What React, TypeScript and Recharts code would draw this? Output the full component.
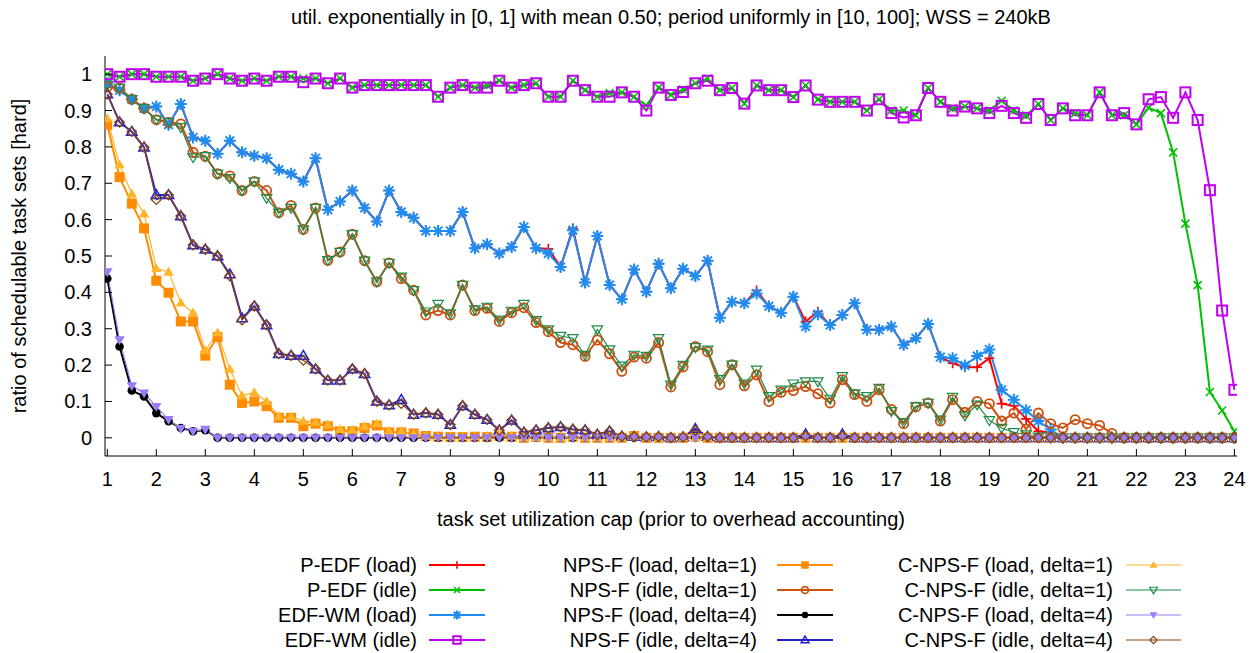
import { LineChart, Line, XAxis, YAxis } from "recharts";

const X = [
  1, 1.25, 1.5, 1.75, 2, 2.25, 2.5, 2.75, 3, 3.25,
  3.5, 3.75, 4, 4.25, 4.5, 4.75, 5, 5.25, 5.5, 5.75,
  6, 6.25, 6.5, 6.75, 7, 7.25, 7.5, 7.75, 8, 8.25,
  8.5, 8.75, 9, 9.25, 9.5, 9.75, 10, 10.25, 10.5, 10.75,
  11, 11.25, 11.5, 11.75, 12, 12.25, 12.5, 12.75, 13, 13.25,
  13.5, 13.75, 14, 14.25, 14.5, 14.75, 15, 15.25, 15.5, 15.75,
  16, 16.25, 16.5, 16.75, 17, 17.25, 17.5, 17.75, 18, 18.25,
  18.5, 18.75, 19, 19.25, 19.5, 19.75, 20, 20.25, 20.5, 20.75,
  21, 21.25, 21.5, 21.75, 22, 22.25, 22.5, 22.75, 23, 23.25,
  23.5, 23.75, 24,
];

const X_TICKS = [1, 2, 3, 4, 5, 6, 7, 8, 9, 10, 11, 12, 13, 14, 15, 16, 17, 18, 19, 20, 21, 22, 23, 24];
const Y_TICKS = [0, 0.1, 0.2, 0.3, 0.4, 0.5, 0.6, 0.7, 0.8, 0.9, 1];

const PEDF_LOAD = [
  0.97, 0.956, 0.931, 0.906, 0.911, 0.861, 0.918, 0.826, 0.817, 0.781,
  0.817, 0.785, 0.776, 0.769, 0.737, 0.726, 0.705, 0.769, 0.627, 0.65,
  0.68, 0.632, 0.595, 0.68, 0.621, 0.605, 0.569, 0.569, 0.569, 0.621,
  0.521, 0.532, 0.507, 0.525, 0.58, 0.521, 0.52, 0.47, 0.576, 0.427,
  0.555, 0.42, 0.381, 0.463, 0.402, 0.479, 0.411, 0.465, 0.445, 0.487,
  0.33, 0.374, 0.37, 0.405, 0.362, 0.344, 0.388, 0.32, 0.347, 0.31,
  0.338, 0.37, 0.297, 0.297, 0.306, 0.256, 0.274, 0.313, 0.222, 0.205,
  0.194, 0.194, 0.219, 0.094, 0.088, 0.052, 0.018, 0.014, 0, 0,
  0, 0, 0, 0, 0, 0, 0, 0, 0, 0,
  0, 0, 0,
];

const PEDF_IDLE = [
  1.0, 0.993, 1.0, 1.0, 0.993, 0.993, 0.993, 0.982, 0.988, 1.0,
  0.988, 0.982, 0.988, 0.982, 0.993, 0.993, 0.988, 0.988, 0.975, 0.988,
  0.963, 0.97, 0.97, 0.97, 0.97, 0.97, 0.97, 0.938, 0.963, 0.97,
  0.963, 0.97, 0.982, 0.963, 0.97, 0.975, 0.938, 0.938, 0.982, 0.956,
  0.938, 0.948, 0.95, 0.938, 0.914, 0.963, 0.943, 0.958, 0.975, 0.988,
  0.956, 0.962, 0.919, 0.969, 0.956, 0.956, 0.937, 0.969, 0.93, 0.924,
  0.924, 0.924, 0.9, 0.931, 0.9, 0.9, 0.887, 0.962, 0.924, 0.906,
  0.911, 0.906, 0.9, 0.927, 0.9, 0.886, 0.918, 0.874, 0.906, 0.893,
  0.887, 0.95, 0.887, 0.887, 0.862, 0.908, 0.893, 0.785, 0.589, 0.42,
  0.126, 0.075, 0.018,
];

const EDFWM_LOAD = [
  0.975, 0.956, 0.931, 0.906, 0.911, 0.861, 0.918, 0.826, 0.817, 0.781,
  0.817, 0.785, 0.776, 0.769, 0.737, 0.726, 0.705, 0.769, 0.627, 0.65,
  0.68, 0.632, 0.595, 0.68, 0.621, 0.605, 0.569, 0.569, 0.569, 0.621,
  0.521, 0.532, 0.507, 0.525, 0.58, 0.521, 0.507, 0.47, 0.571, 0.427,
  0.555, 0.42, 0.381, 0.463, 0.402, 0.479, 0.411, 0.465, 0.445, 0.487,
  0.33, 0.374, 0.37, 0.397, 0.362, 0.344, 0.388, 0.306, 0.34, 0.31,
  0.338, 0.37, 0.297, 0.297, 0.306, 0.256, 0.274, 0.313, 0.222, 0.219,
  0.199, 0.225, 0.243, 0.132, 0.105, 0.076, 0.046, 0.023, 0, 0,
  0, 0, 0, 0, 0, 0, 0, 0, 0, 0,
  0, 0, 0,
];

const EDFWM_IDLE = [
  1.0, 0.993, 1.0, 1.0, 0.993, 0.993, 0.993, 0.982, 0.988, 1.0,
  0.988, 0.982, 0.988, 0.982, 0.993, 0.993, 0.978, 0.988, 0.975, 0.988,
  0.963, 0.97, 0.97, 0.97, 0.97, 0.97, 0.97, 0.938, 0.963, 0.97,
  0.963, 0.963, 0.982, 0.963, 0.97, 0.975, 0.938, 0.938, 0.982, 0.956,
  0.938, 0.938, 0.95, 0.938, 0.9, 0.963, 0.943, 0.951, 0.975, 0.982,
  0.956, 0.962, 0.919, 0.969, 0.956, 0.956, 0.937, 0.969, 0.93, 0.924,
  0.924, 0.924, 0.9, 0.931, 0.893, 0.881, 0.887, 0.962, 0.924, 0.9,
  0.911, 0.906, 0.893, 0.913, 0.893, 0.88, 0.918, 0.874, 0.906, 0.887,
  0.887, 0.95, 0.887, 0.893, 0.862, 0.931, 0.937, 0.88, 0.95, 0.874,
  0.681, 0.35, 0.132,
];

const NPSF_LOAD_D1 = [
  0.861, 0.717, 0.644, 0.576, 0.432, 0.399, 0.32, 0.32, 0.226, 0.277,
  0.146, 0.096, 0.1, 0.087, 0.055, 0.055, 0.032, 0.039, 0.032, 0.018,
  0.018, 0.027, 0.034, 0.015, 0.015, 0.012, 0.005, 0.003, 0.002, 0.002,
  0.003, 0.002, 0.005, 0.003, 0, 0.002, 0, 0, 0.003, 0,
  0, 0, 0, 0.005, 0, 0, 0, 0, 0.004, 0,
  0, 0, 0, 0, 0, 0, 0, 0, 0, 0,
  0, 0, 0, 0, 0, 0, 0, 0, 0, 0,
  0, 0, 0, 0, 0, 0, 0, 0, 0, 0,
  0, 0, 0, 0, 0, 0, 0, 0, 0, 0,
  0, 0, 0,
];

const NPSF_IDLE_D1 = [
  0.965, 0.962, 0.931, 0.906, 0.875, 0.868, 0.863, 0.785, 0.774, 0.726,
  0.72, 0.68, 0.705, 0.68, 0.619, 0.639, 0.573, 0.632, 0.488, 0.511,
  0.56, 0.487, 0.429, 0.481, 0.438, 0.406, 0.338, 0.35, 0.338, 0.42,
  0.35, 0.356, 0.32, 0.344, 0.358, 0.317, 0.292, 0.262, 0.256, 0.224,
  0.269, 0.231, 0.183, 0.222, 0.219, 0.262, 0.14, 0.195, 0.251, 0.237,
  0.146, 0.201, 0.143, 0.173, 0.1, 0.125, 0.13, 0.141, 0.121, 0.096,
  0.16, 0.119, 0.1, 0.132, 0.078, 0.039, 0.085, 0.096, 0.046, 0.105,
  0.07, 0.1, 0.094, 0.046, 0.068, 0.024, 0.068, 0.039, 0.027, 0.05,
  0.039, 0.034, 0.012, 0, 0, 0, 0, 0, 0, 0,
  0, 0, 0,
];

const NPSF_LOAD_D4 = [
  0.438, 0.251, 0.13, 0.114, 0.068, 0.046, 0.027, 0.018, 0.021, 0,
  0, 0, 0, 0, 0, 0, 0, 0, 0, 0,
  0, 0, 0, 0, 0, 0, 0, 0, 0, 0,
  0, 0, 0, 0, 0, 0, 0, 0, 0, 0,
  0, 0, 0, 0, 0, 0, 0, 0, 0, 0,
  0, 0, 0, 0, 0, 0, 0, 0, 0, 0,
  0, 0, 0, 0, 0, 0, 0, 0, 0, 0,
  0, 0, 0, 0, 0, 0, 0, 0, 0, 0,
  0, 0, 0, 0, 0, 0, 0, 0, 0, 0,
  0, 0, 0,
];

const NPSF_IDLE_D4 = [
  0.945, 0.868, 0.842, 0.799, 0.668, 0.668, 0.61, 0.53, 0.518, 0.5,
  0.45, 0.329, 0.362, 0.31, 0.231, 0.226, 0.226, 0.189, 0.158, 0.158,
  0.189, 0.176, 0.1, 0.09, 0.105, 0.064, 0.068, 0.064, 0.036, 0.088,
  0.064, 0.05, 0.021, 0.048, 0.015, 0.021, 0.027, 0.03, 0.023, 0.021,
  0.009, 0.018, 0.004, 0.003, 0.002, 0.003, 0, 0.002, 0.025, 0.003,
  0, 0, 0, 0, 0, 0, 0, 0.01, 0, 0,
  0.01, 0, 0, 0, 0, 0, 0, 0, 0, 0,
  0, 0, 0, 0, 0, 0, 0, 0, 0, 0,
  0, 0, 0, 0, 0, 0, 0, 0, 0, 0,
  0, 0, 0,
];

const CNPSF_LOAD_D1 = [
  0.878, 0.751, 0.671, 0.616, 0.466, 0.456, 0.371, 0.344, 0.24, 0.289,
  0.189, 0.116, 0.125, 0.1, 0.059, 0.059, 0.046, 0.043, 0.036, 0.023,
  0.021, 0.032, 0.039, 0.018, 0.018, 0.01, 0.005, 0.004, 0.003, 0.003,
  0.003, 0.005, 0.015, 0.005, 0, 0, 0, 0, 0.003, 0,
  0, 0, 0, 0.003, 0, 0, 0, 0, 0, 0,
  0, 0, 0, 0, 0, 0, 0, 0, 0, 0,
  0, 0, 0, 0, 0, 0, 0, 0, 0, 0,
  0, 0, 0, 0, 0, 0, 0, 0, 0, 0,
  0, 0, 0, 0, 0, 0, 0, 0, 0, 0,
  0, 0, 0,
];

const CNPSF_IDLE_D1 = [
  0.97, 0.962, 0.931, 0.906, 0.875, 0.868, 0.854, 0.771, 0.774, 0.726,
  0.714, 0.68, 0.705, 0.659, 0.619, 0.632, 0.573, 0.632, 0.488, 0.511,
  0.56, 0.487, 0.429, 0.481, 0.443, 0.406, 0.347, 0.368, 0.342, 0.42,
  0.353, 0.36, 0.325, 0.349, 0.368, 0.323, 0.298, 0.28, 0.274, 0.228,
  0.298, 0.243, 0.198, 0.228, 0.225, 0.274, 0.146, 0.2, 0.249, 0.242,
  0.161, 0.201, 0.149, 0.187, 0.114, 0.132, 0.149, 0.155, 0.155, 0.107,
  0.169, 0.122, 0.114, 0.137, 0.073, 0.043, 0.087, 0.096, 0.05, 0.112,
  0.061, 0.091, 0.048, 0.027, 0.015, 0.009, 0.003, 0, 0, 0,
  0, 0, 0, 0, 0, 0, 0, 0, 0, 0,
  0, 0, 0,
];

const CNPSF_LOAD_D4 = [
  0.456, 0.269, 0.143, 0.123, 0.086, 0.05, 0.025, 0.018, 0.023, 0,
  0, 0, 0, 0, 0, 0, 0, 0, 0, 0,
  0, 0, 0, 0, 0, 0, 0, 0, 0, 0,
  0, 0, 0, 0, 0, 0, 0, 0, 0, 0,
  0, 0, 0, 0, 0, 0, 0, 0, 0, 0,
  0, 0, 0, 0, 0, 0, 0, 0, 0, 0,
  0, 0, 0, 0, 0, 0, 0, 0, 0, 0,
  0, 0, 0, 0, 0, 0, 0, 0, 0, 0,
  0, 0, 0, 0, 0, 0, 0, 0, 0, 0,
  0, 0, 0,
];

const CNPSF_IDLE_D4 = [
  0.945, 0.868, 0.842, 0.799, 0.655, 0.668, 0.61, 0.53, 0.518, 0.5,
  0.445, 0.324, 0.362, 0.31, 0.231, 0.226, 0.213, 0.189, 0.158, 0.158,
  0.189, 0.176, 0.1, 0.09, 0.094, 0.064, 0.068, 0.064, 0.036, 0.088,
  0.064, 0.05, 0.021, 0.048, 0.015, 0.021, 0.027, 0.03, 0.023, 0.021,
  0.009, 0.018, 0.004, 0.003, 0.002, 0.003, 0, 0.002, 0.02, 0.003,
  0, 0, 0, 0, 0, 0, 0, 0.005, 0, 0,
  0.005, 0, 0, 0, 0, 0, 0, 0, 0, 0,
  0, 0, 0, 0, 0, 0, 0, 0, 0, 0,
  0, 0, 0, 0, 0, 0, 0, 0, 0, 0,
  0, 0, 0,
];

type Kind =
  | "plus" | "cross" | "star" | "square" | "fsquare" | "circle"
  | "fcircle" | "tri" | "ftri" | "dtri" | "fdtri" | "diamond";

interface SeriesDef {
  key: string;
  name: string;
  color: string;
  width: number;
  kind: Kind;
  values: number[];
}

const SERIES: SeriesDef[] = [
  { key: "pedfLoad", name: "P-EDF (load)", color: "#ff0000", width: 2, kind: "plus", values: PEDF_LOAD },
  { key: "pedfIdle", name: "P-EDF (idle)", color: "#00c000", width: 2, kind: "cross", values: PEDF_IDLE },
  { key: "edfwmLoad", name: "EDF-WM (load)", color: "#1e8cf0", width: 2, kind: "star", values: EDFWM_LOAD },
  { key: "edfwmIdle", name: "EDF-WM (idle)", color: "#c000f0", width: 2, kind: "square", values: EDFWM_IDLE },
  { key: "npsfLoad1", name: "NPS-F (load, delta=1)", color: "#ff8c00", width: 2, kind: "fsquare", values: NPSF_LOAD_D1 },
  { key: "npsfIdle1", name: "NPS-F (idle, delta=1)", color: "#cc5010", width: 2, kind: "circle", values: NPSF_IDLE_D1 },
  { key: "npsfLoad4", name: "NPS-F (load, delta=4)", color: "#000000", width: 2, kind: "fcircle", values: NPSF_LOAD_D4 },
  { key: "npsfIdle4", name: "NPS-F (idle, delta=4)", color: "#2222c8", width: 2, kind: "tri", values: NPSF_IDLE_D4 },
  { key: "cnpsfLoad1", name: "C-NPS-F (load, delta=1)", color: "#ffb52a", width: 1.2, kind: "ftri", values: CNPSF_LOAD_D1 },
  { key: "cnpsfIdle1", name: "C-NPS-F (idle, delta=1)", color: "#1f8c4a", width: 1.2, kind: "dtri", values: CNPSF_IDLE_D1 },
  { key: "cnpsfLoad4", name: "C-NPS-F (load, delta=4)", color: "#9a7df5", width: 1.2, kind: "fdtri", values: CNPSF_LOAD_D4 },
  { key: "cnpsfIdle4", name: "C-NPS-F (idle, delta=4)", color: "#8b4513", width: 1.2, kind: "diamond", values: CNPSF_IDLE_D4 },
];

const rows = X.map((x, i) => {
  const row: Record<string, number> = { x };
  SERIES.forEach((s) => {
    row[s.key] = s.values[i];
  });
  return row;
});

const FONT = '"Liberation Sans", Arial, Helvetica, sans-serif';
const FS = 20;
const TICK = 7;

function Marker({ kind, cx, cy, color, s = 1 }: { kind: Kind; cx: number; cy: number; color: string; s?: number }) {
  switch (kind) {
    case "plus": {
      const r = 5 * s;
      return <path d={`M${cx - r} ${cy}H${cx + r}M${cx} ${cy - r}V${cy + r}`} stroke={color} strokeWidth={1.6} fill="none" />;
    }
    case "cross": {
      const r = 4 * s;
      return <path d={`M${cx - r} ${cy - r}L${cx + r} ${cy + r}M${cx - r} ${cy + r}L${cx + r} ${cy - r}`} stroke={color} strokeWidth={1.6} fill="none" />;
    }
    case "star": {
      const r = 6 * s;
      const d = 4.3 * s;
      return (
        <path
          d={`M${cx - r} ${cy}H${cx + r}M${cx} ${cy - r}V${cy + r}M${cx - d} ${cy - d}L${cx + d} ${cy + d}M${cx - d} ${cy + d}L${cx + d} ${cy - d}`}
          stroke={color}
          strokeWidth={2}
          fill="none"
        />
      );
    }
    case "square": {
      const r = 5 * s;
      return <rect x={cx - r} y={cy - r} width={2 * r} height={2 * r} stroke={color} strokeWidth={2} fill="none" />;
    }
    case "fsquare": {
      const r = 5 * s;
      return <rect x={cx - r} y={cy - r} width={2 * r} height={2 * r} fill={color} />;
    }
    case "circle":
      return <circle cx={cx} cy={cy} r={4.6 * s} stroke={color} strokeWidth={1.8} fill="none" />;
    case "fcircle":
      return <circle cx={cx} cy={cy} r={4.3 * s} fill={color} />;
    case "tri":
    case "ftri": {
      const r = 5.2 * s;
      const pts = `${cx},${cy - r} ${cx + r},${cy + r * 0.7} ${cx - r},${cy + r * 0.7}`;
      return kind === "tri" ? (
        <polygon points={pts} stroke={color} strokeWidth={1.5} fill="none" />
      ) : (
        <polygon points={pts} fill={color} />
      );
    }
    case "dtri":
    case "fdtri": {
      const r = 5.2 * s;
      const pts = `${cx},${cy + r} ${cx + r},${cy - r * 0.7} ${cx - r},${cy - r * 0.7}`;
      return kind === "dtri" ? (
        <polygon points={pts} stroke={color} strokeWidth={1.2} fill="none" />
      ) : (
        <polygon points={pts} fill={color} />
      );
    }
    case "diamond": {
      const r = 4.8 * s;
      return (
        <polygon
          points={`${cx},${cy - r} ${cx + r},${cy} ${cx},${cy + r} ${cx - r},${cy}`}
          stroke={color}
          strokeWidth={1.3}
          fill="none"
        />
      );
    }
  }
  return null;
}

const fmt = (v: number) => String(Math.round(v * 10) / 10);

function LeftTick(props: any) {
  const { x, y, payload } = props;
  return (
    <g>
      <line x1={x} x2={x + TICK} y1={y} y2={y} stroke="#000" />
      <text x={x - 13} y={y} dy="0.35em" textAnchor="end" fontSize={FS} fontFamily={FONT} fill="#000">
        {fmt(payload.value)}
      </text>
    </g>
  );
}

function RightTick(props: any) {
  const { x, y } = props;
  return <line x1={x} x2={x - TICK} y1={y} y2={y} stroke="#000" />;
}

function BottomTick(props: any) {
  const { x, y, payload } = props;
  return (
    <g>
      <line x1={x} x2={x} y1={y} y2={y - TICK} stroke="#000" />
      <text x={x} y={y + 30} textAnchor="middle" fontSize={FS} fontFamily={FONT} fill="#000">
        {payload.value}
      </text>
    </g>
  );
}

function TopTick(props: any) {
  const { x, y } = props;
  return <line x1={x} x2={x} y1={y} y2={y + TICK} stroke="#000" />;
}

const LEGEND_COLS = [
  { textRight: 417, lineFrom: 429, lineTo: 485 },
  { textRight: 757, lineFrom: 777, lineTo: 833 },
  { textRight: 1113, lineFrom: 1126, lineTo: 1181 },
];
const LEGEND_ROWS = [565, 590, 615, 640];

function Overlay() {
  return (
    <svg
      width={1258}
      height={653}
      style={{ position: "absolute", left: 0, top: 0, pointerEvents: "none" }}
      fontFamily={FONT}
      fontSize={FS}
    >
      <text x={671} y={24} textAnchor="middle" fill="#000">
        util. exponentially in [0, 1] with mean 0.50; period uniformly in [10, 100]; WSS = 240kB
      </text>
      <text x={671} y={526} textAnchor="middle" fill="#000">
        task set utilization cap (prior to overhead accounting)
      </text>
      <text x={26} y={256} textAnchor="middle" fill="#000" transform="rotate(-90 26 256)">
        ratio of schedulable task sets [hard]
      </text>
      {SERIES.map((s, i) => {
        const col = LEGEND_COLS[Math.floor(i / 4)];
        const y = LEGEND_ROWS[i % 4];
        const mid = (col.lineFrom + col.lineTo) / 2;
        return (
          <g key={s.key}>
            <text x={col.textRight} y={y} dy="0.35em" textAnchor="end" fill="#000">
              {s.name}
            </text>
            <line x1={col.lineFrom} x2={col.lineTo} y1={y} y2={y} stroke={s.color} strokeWidth={s.width} />
            <Marker kind={s.kind} cx={mid} cy={y} color={s.color} s={0.75} />
          </g>
        );
      })}
    </svg>
  );
}

export default function App() {
  return (
    <div style={{ position: "absolute", left: 0, top: 0, width: 1258, height: 653, background: "#fff" }}>
      <LineChart width={1258} height={540} data={rows} margin={{ top: 56, right: 21, bottom: 0, left: 0 }}>
        <XAxis
          xAxisId="b"
          dataKey="x"
          type="number"
          domain={[0.953, 24.053]}
          ticks={X_TICKS}
          interval={0}
          height={84}
          tickSize={0}
          tickMargin={0}
          tickLine={false}
          axisLine={{ stroke: "#000" }}
          tick={<BottomTick />}
          allowDataOverflow
        />
        <XAxis
          xAxisId="t"
          orientation="top"
          dataKey="x"
          type="number"
          domain={[0.953, 24.053]}
          ticks={X_TICKS}
          interval={0}
          height={0}
          tickSize={0}
          tickMargin={0}
          tickLine={false}
          axisLine={{ stroke: "#000" }}
          tick={<TopTick />}
          allowDataOverflow
        />
        <YAxis
          yAxisId="l"
          type="number"
          domain={[-0.05, 1.05]}
          ticks={Y_TICKS}
          interval={0}
          width={105}
          tickSize={0}
          tickMargin={0}
          tickLine={false}
          axisLine={{ stroke: "#000" }}
          tick={<LeftTick />}
          allowDataOverflow
        />
        <YAxis
          yAxisId="r"
          orientation="right"
          type="number"
          domain={[-0.05, 1.05]}
          ticks={Y_TICKS}
          interval={0}
          width={0}
          tickSize={0}
          tickMargin={0}
          tickLine={false}
          axisLine={{ stroke: "#000" }}
          tick={<RightTick />}
          allowDataOverflow
        />
        {SERIES.map((s) => (
          <Line
            key={s.key}
            xAxisId="b"
            yAxisId="l"
            type="linear"
            dataKey={s.key}
            name={s.name}
            stroke={s.color}
            strokeWidth={s.width}
            isAnimationActive={false}
            activeDot={false}
            dot={(p: any) => (
              <g key={`${s.key}-${p.index}`}>
                <Marker kind={s.kind} cx={p.cx} cy={p.cy} color={s.color} />
              </g>
            )}
          />
        ))}
      </LineChart>
      <Overlay />
    </div>
  );
}
